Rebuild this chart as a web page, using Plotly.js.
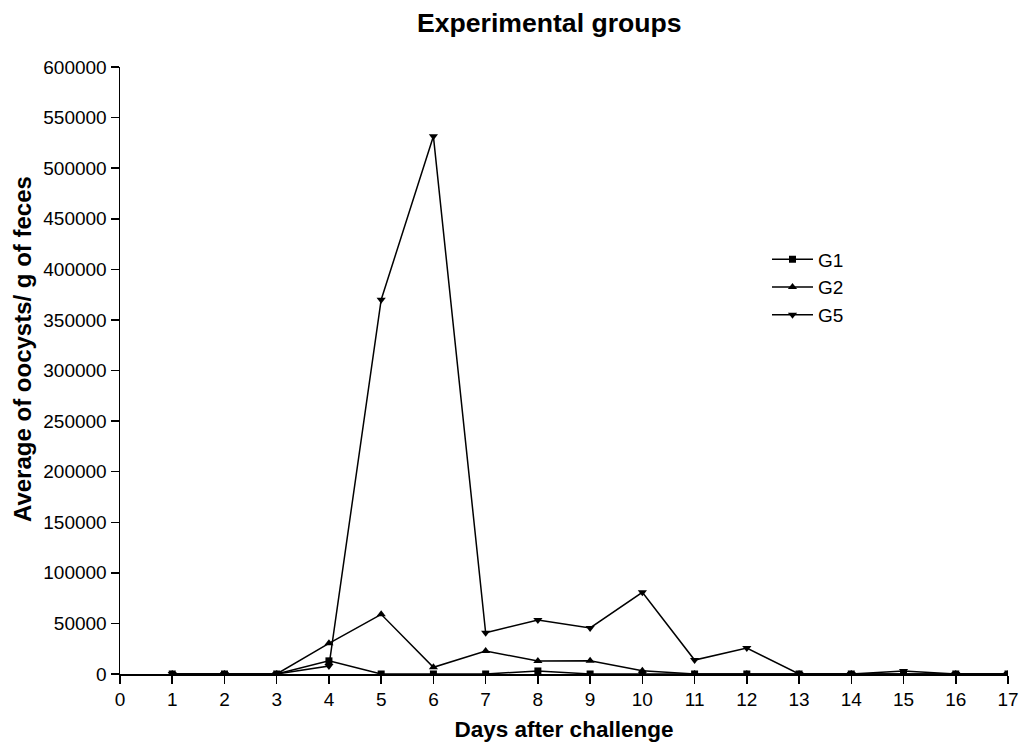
<!DOCTYPE html>
<html>
<head>
<meta charset="utf-8">
<script src="https://cdn.plot.ly/plotly-3.0.1.min.js"></script>
<style>html,body{margin:0;padding:0;background:#fff;}#chart{width:1021px;height:745px;}</style>
</head>
<body>
<div id="chart"></div>
<script>
const days = [1,2,3,4,5,6,7,8,9,10,11,12,13,14,15,16,17];
const g1 = [0,0,0,13000,0,0,0,3000,0,0,0,0,0,0,0,0,0];
const g2 = [0,0,0,30300,59000,6600,22700,12800,13100,3300,0,0,0,0,0,0,0];
const g5 = [0,0,0,7900,370000,531500,40800,53400,45500,80800,13800,25700,0,0,3000,0,0];
const seriesNames = ['G1','G2','G5'];
const xTicks = [0,1,2,3,4,5,6,7,8,9,10,11,12,13,14,15,16,17];
const yTicks = [0,50000,100000,150000,200000,250000,300000,350000,400000,450000,500000,550000,600000];

const font = 'Liberation Sans, Arial, sans-serif';
const mk = (y, name, sym, size) => ({
  x: days, y: y, name: name, type: 'scatter', mode: 'lines+markers',
  line: {color: '#000', width: 1.5},
  marker: {symbol: sym, size: size, color: '#000'}
});
const data = [
  mk(g1, seriesNames[0], 'square', 7),
  mk(g2, seriesNames[1], 'triangle-up', 8),
  mk(g5, seriesNames[2], 'triangle-down', 8)
];
const layout = {
  width: 1021, height: 745,
  margin: {l: 120, r: 13, t: 67, b: 71},
  paper_bgcolor: '#fff', plot_bgcolor: '#fff',
  font: {family: font, color: '#000', size: 19},
  title: {text: '<b>Experimental groups</b>', x: 0.538, xanchor: 'center', y: 0.97, yanchor: 'middle', font: {size: 26.6, family: font}},
  showlegend: true,
  legend: {x: 0.7286, y: 0.7142, xanchor: 'left', yanchor: 'top', font: {size: 19, family: font}, tracegroupgap: 0, itemwidth: 41, bgcolor: 'rgba(0,0,0,0)'},
  xaxis: {
    range: [0, 17], tickvals: xTicks, ticktext: xTicks.map(String),
    showgrid: false, zeroline: false, showline: true, linecolor: '#000', linewidth: 1.5,
    ticks: 'outside', ticklen: 8, tickcolor: '#000', tickwidth: 1.5,
    tickfont: {size: 19, family: font},
    title: {text: '<b>Days after challenge</b>', font: {size: 22.5, family: font}, standoff: 12}
  },
  yaxis: {
    range: [0, 600000], tickvals: yTicks, ticktext: yTicks.map(String),
    showgrid: false, zeroline: false, showline: true, linecolor: '#000', linewidth: 1.5,
    ticks: 'outside', ticklen: 8, tickcolor: '#000', tickwidth: 1.5,
    tickfont: {size: 19, family: font}
  },
  annotations: [{
    text: '<b>Average of oocysts/ g of feces</b>', textangle: -90,
    xref: 'paper', yref: 'paper', x: 0, y: 0.5354, xanchor: 'center', yanchor: 'middle',
    xshift: -98, showarrow: false, font: {size: 24, family: font}
  }]
};
Plotly.newPlot('chart', data, layout, {displayModeBar: false, staticPlot: true});
</script>
</body>
</html>
